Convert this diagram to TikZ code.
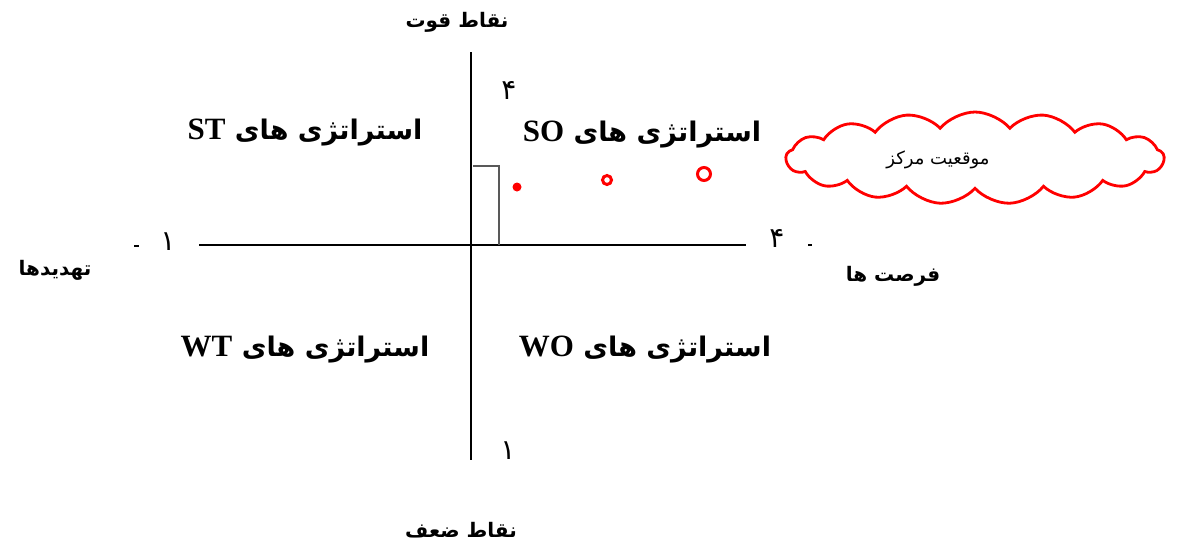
\documentclass[tikz,border=0pt]{standalone}
\usepackage{fontspec}
\setmainfont{Liberation Serif}
\newfontfamily\fa[Script=Arabic]{DejaVu Sans}
\TeXXeTstate=1
\usetikzlibrary{shapes.symbols}
\tikzset{
  axis/.style={line width=2.4pt, black},
  quad/.style={font=\fa\bfseries\fontsize{27}{30}\selectfont, inner sep=0pt},
  lab/.style={font=\fa\bfseries\fontsize{20}{22}\selectfont, inner sep=0pt},
  num/.style={font=\fa\fontsize{28}{30}\selectfont, inner sep=0pt},
  tick/.style={line width=2.2pt},
  dotc/.style={red, line width=3pt},
}
\begin{document}
\begin{tikzpicture}[x=1pt,y=-1pt]
\useasboundingbox (0,0) rectangle (1182,542);
% axes
\coordinate (vt) at (471,52);
\coordinate (vb) at (471,460);
\coordinate (hl) at (199,245);
\coordinate (hr) at (746,245);
\draw[axis] (vt) -- (vb);
\draw[axis] (hl) -- (hr);
% small dashes
\coordinate (dl1) at (134,246); \coordinate (dl2) at (139,246);
\coordinate (dr1) at (808,245); \coordinate (dr2) at (812,245);
\draw[tick] (dl1) -- (dl2);
\draw[tick] (dr1) -- (dr2);
% small rectangle
\coordinate (r1) at (473,166); \coordinate (r2) at (499,166); \coordinate (r3) at (499,245);
\draw[gray!70!black, line width=1.2pt] (r1) -- (r2) -- (r3);
% numbers
\node[num] (n1l) at (168,242) {\beginR ۱\endR};
\node[num] (n4r) at (777,238) {\beginR ۴\endR};
\node[num] (n4t) at (509,90) {\beginR ۴\endR};
\node[num] (n1b) at (508,451) {\beginR ۱\endR};
% axis labels
\node[lab] (str) at (457,22) {\beginR نقاط قوت\endR};
\node[lab] (wea) at (461,530) {\beginR نقاط ضعف\endR};
\node[lab] (thr) at (55,270) {\beginR تهدیدها\endR};
\node[lab] (opp) at (893,276) {\beginR فرصت ها\endR};
% quadrant titles
\node[quad] (st) at (305,133) {\beginR استراتژی های \beginL{\rmfamily\bfseries\fontsize{31}{34}\selectfont ST}\endL\endR};
\node[quad] (so) at (642,135) {\beginR استراتژی های \beginL{\rmfamily\bfseries\fontsize{31}{34}\selectfont SO}\endL\endR};
\node[quad] (wt) at (305,350) {\beginR استراتژی های \beginL{\rmfamily\bfseries\fontsize{31}{34}\selectfont WT}\endL\endR};
\node[quad] (wo) at (645,350) {\beginR استراتژی های \beginL{\rmfamily\bfseries\fontsize{31}{34}\selectfont WO}\endL\endR};
% points
\fill[red] (517,187) circle (4.5);
\draw[dotc] (607,180) circle (4.5);
\draw[dotc] (704,174) circle (6.5);
% cloud
\node[cloud, draw=red, line width=2.8pt, cloud puffs=17, cloud puff arc=100, aspect=4,
  minimum width=378pt, minimum height=92pt, inner sep=0pt] (cl) at (975,158) {};
\node[font=\fa\fontsize{18}{20}\selectfont, inner sep=0pt] (clt) at (938,160) {\beginR موقعیت مرکز\endR};
\end{tikzpicture}
\end{document}
